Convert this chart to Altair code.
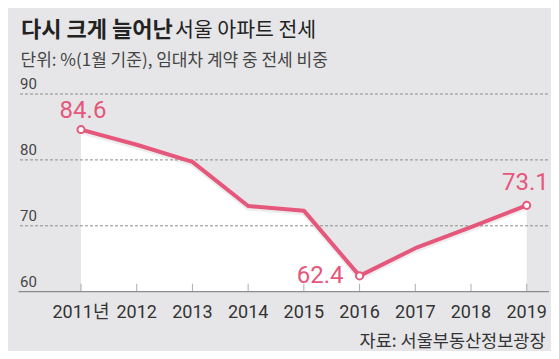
import altair as alt
import pandas as pd

years = [2011, 2012, 2013, 2014, 2015, 2016, 2017, 2018, 2019]
values = [84.6, 82.3, 79.7, 73.0, 72.3, 62.4, 66.6, 69.8, 73.1]
year_labels = ["2011년", "2012", "2013", "2014", "2015", "2016", "2017", "2018", "2019"]
marked_years = [2011, 2016, 2019]
y_ticks = [60, 70, 80, 90]
grid_values = [70, 80, 90]

title_bold = "다시 크게 늘어난"
title_regular = "서울 아파트 전세"
subtitle = "단위: %(1월 기준), 임대차 계약 중 전세 비중"
source = "자료: 서울부동산정보광장"

PINK = "#e5577b"
BG = "#e6e6e8"
KR = "Noto Sans CJK KR"
NUM = "Roboto, Noto Sans CJK KR"

df = pd.DataFrame({"year": years, "value": values, "label": year_labels})
df["marked"] = df["year"].isin(marked_years)
df["vtext"] = df["value"].map(lambda v: f"{v:.1f}")
ticks_df = pd.DataFrame({"value": y_ticks})
grid_df = pd.DataFrame({"value": grid_values})

xs = alt.Scale(domain=[2011, 2019], range=[73, 518.7], zero=False, nice=False)
ys = alt.Scale(domain=[60, 90], range=[283.7, 86], zero=False, nice=False)
X = alt.X("year:Q", scale=xs, axis=None)
Y = alt.Y("value:Q", scale=ys, axis=None)

base = alt.Chart(df)

area = base.mark_area(color="white", opacity=1).encode(x=X, y=Y, y2=alt.datum(60))

grid = alt.Chart(grid_df).mark_rule(color="#8c8c8c", strokeDash=[3, 2], strokeWidth=1).encode(
    y=Y, x=alt.value(12), x2=alt.value(540)
)

ylabels = alt.Chart(ticks_df).mark_text(
    align="left", baseline="alphabetic", font=NUM, fontSize=15, color="#444", dy=-5
).encode(y=Y, x=alt.value(12), text=alt.Text("value:Q"))

baseline = alt.Chart(ticks_df).transform_filter(alt.datum.value == 60).mark_rule(
    color="#8c8c8c", strokeWidth=1.2
).encode(y=Y, x=alt.value(10.5), x2=alt.value(541))

xticks = base.transform_calculate(base="60").mark_tick(
    orient="vertical", size=8, thickness=1, color="#8c8c8c", yOffset=-4
).encode(x=X, y=alt.Y("base:Q", scale=ys, axis=None))

xlabels = base.mark_text(font=NUM, fontSize=18, color="#333", baseline="alphabetic").encode(
    x=X, y=alt.value(310), text="label:N"
)

shadow = base.mark_line(color="#000", opacity=0.07, strokeWidth=5, yOffset=2, strokeJoin="round").encode(x=X, y=Y)
line = base.mark_line(color=PINK, strokeWidth=4, strokeJoin="round").encode(x=X, y=Y)

points = base.transform_filter(alt.datum.marked).mark_point(
    shape="circle", filled=True, fill="white", stroke=PINK, strokeWidth=2, size=50, opacity=1
).encode(x=X, y=Y)

lab_2011 = base.transform_filter(alt.datum.year == 2011).mark_text(
    font="Roboto", fontSize=24, color=PINK, align="center", baseline="alphabetic", dx=2, dy=-12
).encode(x=X, y=Y, text="vtext:N")
lab_2016 = base.transform_filter(alt.datum.year == 2016).mark_text(
    font="Roboto", fontSize=24, color=PINK, align="right", baseline="alphabetic", dx=-16, dy=7
).encode(x=X, y=Y, text="vtext:N")
lab_2019 = base.transform_filter(alt.datum.year == 2019).mark_text(
    font="Roboto", fontSize=24, color=PINK, align="right", baseline="alphabetic", dx=22, dy=-15
).encode(x=X, y=Y, text="vtext:N")

one = pd.DataFrame({"t": [0]})
t1 = alt.Chart(one).mark_text(text=title_bold, font=KR, fontSize=22, fontWeight="bold", color="#222",
                              align="left", baseline="alphabetic").encode(x=alt.value(13), y=alt.value(29))
t2 = alt.Chart(one).mark_text(text=title_regular, font=KR, fontSize=20.5, color="#222",
                              align="left", baseline="alphabetic").encode(x=alt.value(167), y=alt.value(29))
st = alt.Chart(one).mark_text(text=subtitle, font=KR, fontSize=17, color="#444",
                              align="left", baseline="alphabetic").encode(x=alt.value(12.5), y=alt.value(58))
src = alt.Chart(one).mark_text(text=source, font=KR, fontSize=17.5, color="#333",
                               align="right", baseline="alphabetic").encode(x=alt.value(537.5), y=alt.value(339))

chart = alt.layer(
    area, grid, ylabels, baseline, xticks, xlabels, shadow, line, points,
    lab_2011, lab_2016, lab_2019, t1, t2, st, src
).properties(
    width=543, height=343, background=BG, padding=0,
    autosize=alt.AutoSizeParams(type="none")
).configure_view(stroke=None)

chart.save("out.html", embed_options={"renderer": "svg", "actions": False})
